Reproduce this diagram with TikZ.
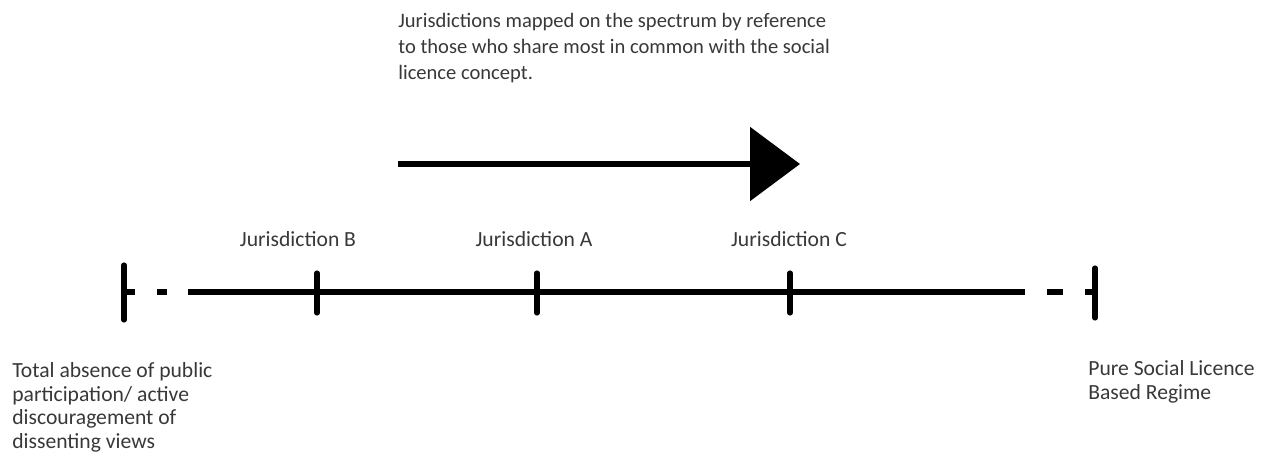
\documentclass[tikz,border=0pt]{standalone}
\usepackage{fontspec}
\setmainfont{Carlito}
\usetikzlibrary{arrows.meta,positioning}

\begin{document}
\begin{tikzpicture}[
        x=0.02cm, y=-0.02cm,
        label/.style={font=\fontsize{12.3}{14.8}\selectfont, text=black!78, inner sep=0pt, align=left},
        topnote/.style={label, font=\fontsize{11.7}{14.8}\selectfont},
        endnote/.style={label, font=\fontsize{12.3}{13.5}\selectfont},
        axis/.style={line width=2.9pt},
        tick/.style={line width=2.9pt, line cap=round},
        bigarrow/.style={line width=3.3pt, -{Triangle[length=1cm, width=1.46cm]}}
    ]
        \useasboundingbox (0,0) rectangle (1266,457);

        % spectrum line
        \coordinate (leftend) at (124,292);
        \coordinate (rightend) at (1095,292);
        \coordinate (linestart) at (188,292);
        \coordinate (linestop) at (1025,292);
        \coordinate (tickB) at (317,292);
        \coordinate (tickA) at (537,292);
        \coordinate (tickC) at (790,292);

        \draw[tick] (leftend) ++(0,-27) -- ++(0,55);
        \draw[tick] (rightend) ++(0,-24) -- ++(0,50);
        \draw[axis] (leftend) -- ++(11,0);
        \draw[axis] (leftend) ++(33,0) -- ++(10,0);
        \draw[axis] (linestart) -- (linestop);
        \draw[axis] (linestop) ++(22,0) -- ++(16,0);
        \draw[axis] (rightend) ++(-10,0) -- (rightend);
        \foreach \t in {tickB, tickA, tickC}
            \draw[tick] (\t) ++(0,-19) -- ++(0,40);

        % direction arrow
        \coordinate (arrowtail) at (398,164);
        \coordinate (arrowtip) at (800,164);
        \draw[bigarrow] (arrowtail) -- (arrowtip);

        % labels
        \node (labelB) [label, anchor=base] at (298,246) {Jurisdiction B};
        \node (labelA) [label, anchor=base] at (534,246) {Jurisdiction A};
        \node (labelC) [label, anchor=base] at (789,246) {Jurisdiction C};
        \node (note) [topnote, anchor=north west] at (398,13) {Jurisdictions mapped on the spectrum by reference\\to those who share most in common with the social\\licence concept.};
        \node (lowend) [endnote, anchor=north west] at (12,362) {Total absence of public\\participation/ active\\discouragement of\\dissenting views};
        \node (highend) [endnote, anchor=north west] at (1088,360) {Pure Social Licence\\Based Regime};
    \end{tikzpicture}
\end{document}
